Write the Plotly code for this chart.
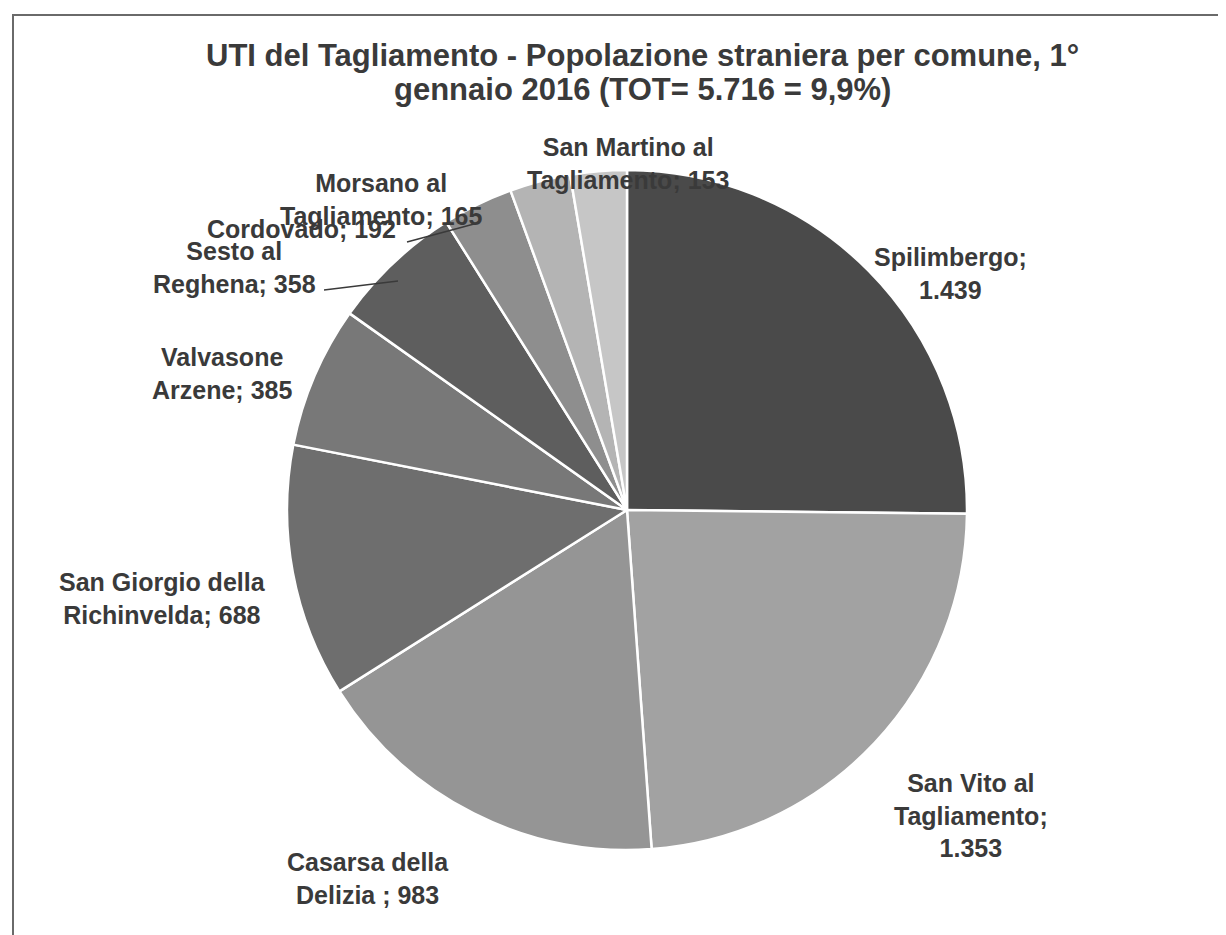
import plotly.graph_objects as go

W, H = 1226, 935
OFF = 8  # page body margin

comuni = ["Spilimbergo", "San Vito al Tagliamento", "Casarsa della Delizia",
          "San Giorgio della Richinvelda", "Valvasone Arzene", "Sesto al Reghena",
          "Cordovado", "Morsano al Tagliamento", "San Martino al Tagliamento"]
stranieri = [1439, 1353, 983, 688, 385, 358, 192, 165, 153]
etichette = ["Spilimbergo;<br>1.439", "San Vito al<br>Tagliamento;<br>1.353",
             "Casarsa della<br>Delizia ; 983", "San Giorgio della<br>Richinvelda; 688",
             "Valvasone<br>Arzene; 385", "Sesto al<br>Reghena; 358",
             "Cordovado; 192", "Morsano al<br>Tagliamento; 165",
             "San Martino al<br>Tagliamento; 153"]
colori = ["#4a4a4a", "#a2a2a2", "#959595", "#6e6e6e", "#787878",
          "#5e5e5e", "#8e8e8e", "#b4b4b4", "#c6c6c6"]
titolo = ["UTI del Tagliamento - Popolazione straniera per comune, 1°",
          "gennaio 2016 (TOT= 5.716 = 9,9%)"]

# label positions in pixels (layout only)
label_pos = [(950, 274), (971, 815), (368, 878), (162, 598), (222, 374),
             (234, 267), (301, 229), (381, 199), (628, 163)]
title_pos = [(642, 55), (642, 90)]

cx, cy, r = 627, 510, 340


def px(x):
    return (x - OFF) / W


def py(y):
    return 1 - (y - OFF) / H


fig = go.Figure(go.Pie(
    labels=comuni, values=stranieri, sort=False, direction="clockwise",
    rotation=0, textinfo="none", hoverinfo="label+value",
    marker=dict(colors=colori, line=dict(color="white", width=2.5)),
    domain=dict(x=[px(cx - r), px(cx + r)], y=[py(cy + r), py(cy - r)]),
    showlegend=False,
))

FAM = "Liberation Sans, Arial, sans-serif"
font_lbl = dict(family=FAM, size=25, color="#3a3a3a")
annotations = []
for txt, (x, y) in zip(etichette, label_pos):
    annotations.append(dict(x=px(x), y=py(y), xref="paper", yref="paper",
                            text="<b>" + txt + "</b>", showarrow=False,
                            font=font_lbl, align="center",
                            xanchor="center", yanchor="middle"))

for txt, (x, y) in zip(titolo, title_pos):
    annotations.append(dict(
        x=px(x), y=py(y), xref="paper", yref="paper", showarrow=False,
        text="<b>" + txt + "</b>",
        font=dict(family=FAM, size=31, color="#3a3a3a"), align="center",
        xanchor="center", yanchor="middle"))

fig.update_layout(
    width=W, height=H,
    margin=dict(l=0, r=0, t=0, b=0),
    paper_bgcolor="white", plot_bgcolor="white",
    annotations=annotations,
    shapes=[
        dict(type="rect", xref="paper", yref="paper",
             x0=px(13), x1=1.05, y0=-0.05, y1=py(15),
             line=dict(color="#6a6a6a", width=2)),
        dict(type="line", xref="paper", yref="paper",
             x0=px(324), y0=py(290), x1=px(398), y1=py(281),
             line=dict(color="#3a3a3a", width=1.5)),
        dict(type="line", xref="paper", yref="paper",
             x0=px(407), y0=py(242), x1=px(474), y1=py(224),
             line=dict(color="#3a3a3a", width=1.5)),
    ],
)

fig.write_html("out.html")
